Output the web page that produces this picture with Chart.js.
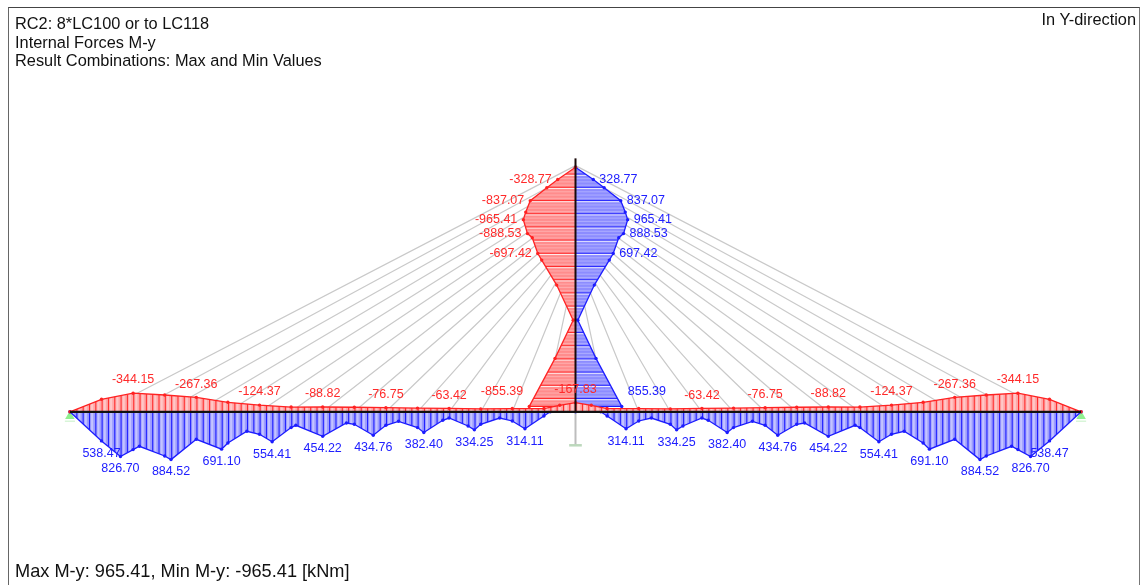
<!DOCTYPE html>
<html>
<head>
<meta charset="utf-8">
<title>RC2 Internal Forces M-y</title>
<script src="https://cdn.jsdelivr.net/npm/chart.js@4/dist/chart.umd.min.js"></script>
<style>
  html, body { margin: 0; padding: 0; background: #fff; overflow: hidden; }
  #wrap { position: relative; width: 1144px; height: 585px; font-family: "Liberation Sans", Arial, sans-serif; color: #111; }
  #frame { position: absolute; left: 8px; top: 7px; width: 1130px; height: 590px; border: 1px solid #444; border-left-color: #666; border-right-color: #777; }
  canvas { position: absolute; left: 0; top: 0; }
  .txt { position: absolute; white-space: nowrap; font-size: 16.35px; line-height: 18px; }
</style>
</head>
<body>
<div id="wrap">
  <canvas id="myChart" width="1144" height="585"></canvas>
  <div id="frame"></div>
  <div class="txt" style="left:15px;top:14px">RC2: 8*LC100 or to LC118</div>
  <div class="txt" style="left:15px;top:33px">Internal Forces M-y</div>
  <div class="txt" style="left:15px;top:51px">Result Combinations: Max and Min Values</div>
  <div class="txt" style="right:8px;top:10px">In Y-direction</div>
  <div class="txt" style="left:15px;top:562px;font-size:18.2px">Max M-y: 965.41, Min M-y: -965.41 [kNm]</div>
</div>
<script>
'use strict';

// Deck, hogging line (kNm), one value per cable panel
const redStations = [-160, -150, -140, -130, -120, -110, -100, -90, -80, -70, -60, -50, -40, -30, -20, -10, -5, 0,
  5, 10, 20, 30, 40, 50, 60, 70, 80, 90, 100, 110, 120, 130, 140, 150, 160];
const redMoments = [0, -231, -344.15, -311, -267.36, -176, -124.37, -88, -88.82, -84, -76.75, -68, -63.42, -55, -60, -60, -120, -167.83,
  -120, -60, -60, -55, -63.42, -68, -76.75, -84, -88.82, -88, -124.37, -176, -267.36, -311, -344.15, -231, 0];

// Deck, sagging line (kNm)
const blueStations = [-160, -150, -144, -140, -138, -130, -128, -120, -112, -110, -104, -100, -96, -90, -88.5, -80, -72.5, -70,
  -64, -60, -56, -50, -48, -42, -40, -34, -32, -30, -24, -20, -16, -10, -8, 0,
  8, 10, 16, 20, 24, 30, 32, 34, 40, 42, 48, 50, 56, 60, 64,
  70, 72.5, 80, 88.5, 90, 96, 100, 104, 110, 112, 120, 128, 130, 138, 140, 144, 150, 160];
const blueMoments = [0, 538.47, 826.70, 699, 638, 818, 884.52, 509, 691.10, 577, 361, 416, 554.41, 292, 250, 454.22, 207, 231,
  434.76, 250, 176, 292, 382.40, 157, 115, 263, 334.25, 231, 115, 170, 314.11, 78, 0, 0,
  0, 78, 314.11, 170, 115, 231, 334.25, 263, 115, 157, 382.40, 292, 176, 250, 434.76,
  231, 207, 454.22, 250, 292, 554.41, 416, 361, 577, 691.10, 509, 884.52, 818, 638, 699, 826.70, 538.47, 0];

// Pylon, moment against elevation (m above deck)
const mastElev = [77.4, 73.5, 70.9, 66.8, 63.2, 60.8, 56.4, 55.1, 50.1, 48, 40.1, 29, 16.9, 1.7, 1.7];
const mastMax = [0, 328.77, 530, 837.07, 920, 965.41, 888.53, 800, 697.42, 625, 348, 43, 379, 855.39, 0];
const mastMin = [0, -328.77, -530, -837.07, -920, -965.41, -888.53, -800, -697.42, -625, -348, -43, -379, -855.39, 0];

// Cables, deck anchor station to pylon anchor elevation
const cableStations = [150, 140, 130, 120, 110, 100, 90, 80, 70, 60, 50, 40, 30, 20, 10];
const cableTops = [77.9, 75.7, 73.5, 71.3, 69.1, 66.9, 64.7, 62.5, 60.3, 58.1, 55.9, 53.7, 51.5, 49.3, 47.1];

// Printed values
const redLabelStations = [-140, -120, -100, -80, -60, -40, 0, 40, 60, 80, 100, 120, 140];
const redLabelValues = [-344.15, -267.36, -124.37, -88.82, -76.75, -63.42, -167.83, -63.42, -76.75, -88.82, -124.37, -267.36, -344.15];
const blueLabelStations = [-150, -144, -128, -112, -96, -80, -64, -48, -32, -16, 16, 32, 48, 64, 80, 96, 112, 128, 144, 150];
const blueLabelValues = [538.47, 826.70, 884.52, 691.10, 554.41, 454.22, 434.76, 382.40, 334.25, 314.11,
  314.11, 334.25, 382.40, 434.76, 454.22, 554.41, 691.10, 884.52, 826.70, 538.47];
const mastLabelElev = [73.5, 66.8, 60.8, 56.4, 50.1, 6.3];
const mastLabelValues = [328.77, 837.07, 965.41, 888.53, 697.42, 855.39];

const MAST_X = 575.5;      // pixel of the pylon
const DECK_Y = 411.8;      // pixel of the deck
const PX_PER_M = 3.16;
const KNM_PER_PX = 18.5;
const RED = '#ff2222';
const BLUE = '#1c1cff';

function zip(xs, ys) {
  return xs.map((x, i) => ({ x: x, y: ys[i] }));
}

// stripes as a fill pattern, one colour per tile row, period may be fractional
function hatch(colors, period, vertical, shift) {
  const tile = document.createElement('canvas');
  tile.width = vertical ? colors.length : 1;
  tile.height = vertical ? 1 : colors.length;
  const c = tile.getContext('2d');
  colors.forEach((col, i) => {
    c.fillStyle = col;
    if (vertical) c.fillRect(i, 0, 1, 1);
    else c.fillRect(0, i, 1, 1);
  });
  const pattern = document.createElement('canvas').getContext('2d').createPattern(tile, 'repeat');
  const s = period / colors.length;
  pattern.setTransform(vertical ? new DOMMatrix([s, 0, 0, 1, shift, 0]) : new DOMMatrix([1, 0, 0, s, 0, shift]));
  return pattern;
}

const deckBlueHatch = hatch(['#1c1cff', '#9c9cff', '#c4c4ff', '#c4c4ff', '#9c9cff', '#9c9cff'], 6.32, true, 70);
const deckRedHatch = hatch(['#ff2a2a', '#ffa8a8', '#ffc8c8', '#ffc8c8', '#ffa8a8', '#ffa8a8'], 6.32, true, 70);
const mastRedHatch = hatch(['#ff2a2a', '#fff0f0', '#ff8c8c', '#ff8c8c', '#ffaaaa', '#ff8c8c', '#ff8c8c', '#ffaaaa', '#ff8c8c', '#ff8c8c', '#ffaaaa', '#ff8c8c'], 13.2, false, 2);
const mastBlueHatch = hatch(['#2a2aff', '#f0f0ff', '#8c8cff', '#8c8cff', '#aaaaff', '#8c8cff', '#8c8cff', '#aaaaff', '#8c8cff', '#8c8cff', '#aaaaff', '#8c8cff'], 13.2, false, 2);

function diagram(points, xAxis, yAxis, color, fillStyle, fillMode) {
  return {
    data: points, xAxisID: xAxis, yAxisID: yAxis,
    showLine: true, tension: 0, borderColor: color, borderWidth: 1.3,
    backgroundColor: fillStyle, fill: fillMode,
    pointRadius: 1.7, pointBackgroundColor: color, pointBorderWidth: 0
  };
}

function stroke(points, xAxis, yAxis, color, width) {
  return {
    data: points, xAxisID: xAxis, yAxisID: yAxis,
    showLine: true, tension: 0, borderColor: color, borderWidth: width,
    pointRadius: 0, fill: false, spanGaps: false
  };
}

// cables both sides, gaps split them into separate strokes
const cablePoints = [];
[-1, 1].forEach(side => {
  cableStations.forEach((st, i) => {
    cablePoints.push({ x: side * st, y: 0 }, { x: 0, y: cableTops[i] }, { x: NaN, y: NaN });
  });
});

const valueLabels = {
  id: 'valueLabels',
  afterDatasetsDraw(chart) {
    const { ctx, scales } = chart;
    ctx.save();
    ctx.font = '12.5px "Liberation Sans", Arial, sans-serif';
    ctx.textBaseline = 'middle';
    ctx.textAlign = 'center';
    ctx.fillStyle = '#ff2a2a';
    redLabelValues.forEach((v, i) => {
      const y = scales.yMoment.getPixelForValue(v) - 13.2;
      ctx.fillText(v.toFixed(2), scales.xStation.getPixelForValue(redLabelStations[i]), y);
    });
    ctx.fillStyle = '#2020ff';
    blueLabelValues.forEach((v, i) => {
      const y = scales.yMoment.getPixelForValue(v) + 12.4;
      ctx.fillText(v.toFixed(2), scales.xStation.getPixelForValue(blueLabelStations[i]), y);
    });
    mastLabelValues.forEach((v, i) => {
      const y = scales.yElev.getPixelForValue(mastLabelElev[i]);
      ctx.textAlign = 'left';
      ctx.fillStyle = '#2020ff';
      ctx.fillText(v.toFixed(2), scales.xMoment.getPixelForValue(v) + 6, y);
      ctx.textAlign = 'right';
      ctx.fillStyle = '#ff2a2a';
      ctx.fillText((-v).toFixed(2), scales.xMoment.getPixelForValue(-v) - 6, y);
    });
    ctx.restore();
  }
};

const ctx = document.getElementById('myChart').getContext('2d');
const myChart = new Chart(ctx, {
  type: 'scatter',
  data: {
    datasets: [
      // first listed is drawn on top
      stroke([{ x: 0, y: 0 }, { x: 0, y: 80.2 }], 'xStation', 'yElev', '#1a0a0a', 2),
      stroke([{ x: -160, y: 0 }, { x: 160, y: 0 }], 'xStation', 'yElev', '#111111', 2.2),
      diagram(zip(redStations, redMoments), 'xStation', 'yMoment', RED, deckRedHatch, 'origin'),
      diagram(zip(blueStations, blueMoments), 'xStation', 'yMoment', BLUE, deckBlueHatch, 'origin'),
      diagram(zip(mastMin, mastElev), 'xMoment', 'yElev', RED, mastRedHatch, 'shape'),
      diagram(zip(mastMax, mastElev), 'xMoment', 'yElev', BLUE, mastBlueHatch, 'shape'),
      {
        data: [{ x: -160, y: -1.4 }, { x: 160, y: -1.4 }],
        xAxisID: 'xStation', yAxisID: 'yElev', showLine: false,
        pointStyle: 'triangle', pointRadius: 5.5, pointBackgroundColor: '#8ff08f', pointBorderWidth: 0
      },
      stroke([{ x: -161.6, y: -3 }, { x: -158.4, y: -3 }, { x: NaN, y: NaN }, { x: 158.4, y: -3 }, { x: 161.6, y: -3 }],
        'xStation', 'yElev', '#d8f5d8', 1.5),
      stroke([{ x: -2, y: -10.6 }, { x: 2, y: -10.6 }], 'xStation', 'yElev', '#bcd8bc', 2.5),
      stroke([{ x: 0, y: 0 }, { x: 0, y: -10.6 }], 'xStation', 'yElev', '#bdbdbd', 2),
      stroke(cablePoints, 'xStation', 'yElev', '#c9c9c9', 1.2)
    ]
  },
  options: {
    responsive: false,
    animation: false,
    layout: { padding: 0, autoPadding: false },
    plugins: { legend: { display: false }, tooltip: { enabled: false }, title: { display: false } },
    scales: {
      // two scale pairs, metres and kNm, share the deck and pylon as zero
      xStation: { type: 'linear', display: false, min: -MAST_X / PX_PER_M, max: (1144 - MAST_X) / PX_PER_M },
      yElev: { type: 'linear', display: false, min: -(585 - DECK_Y) / PX_PER_M, max: DECK_Y / PX_PER_M },
      xMoment: { type: 'linear', display: false, min: -MAST_X * KNM_PER_PX, max: (1144 - MAST_X) * KNM_PER_PX },
      yMoment: { type: 'linear', display: false, reverse: true, min: -DECK_Y * KNM_PER_PX, max: (585 - DECK_Y) * KNM_PER_PX }
    }
  },
  plugins: [valueLabels]
});
</script>
</body>
</html>
